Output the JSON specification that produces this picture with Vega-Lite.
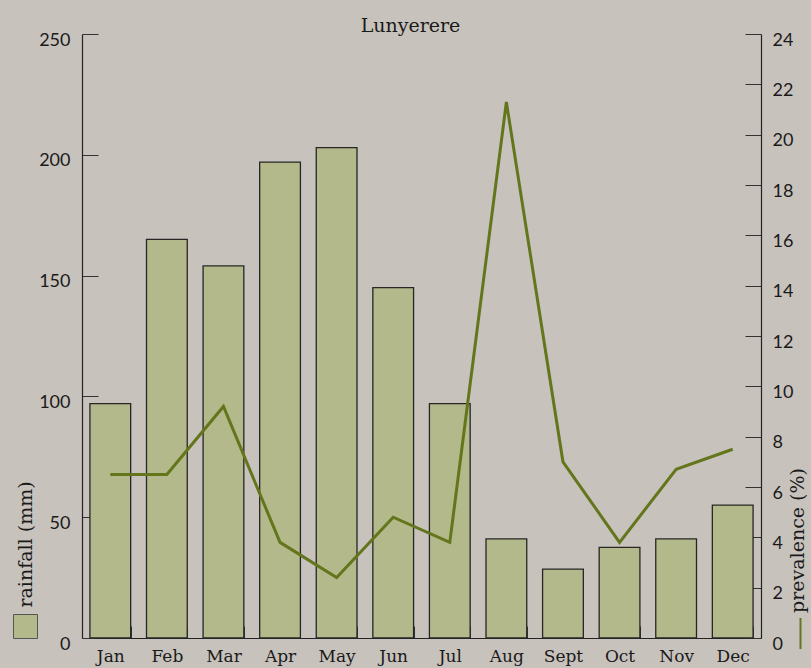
{
  "$schema": "https://vega.github.io/schema/vega-lite/v6.json",
  "autosize": {"type": "none"},
  "padding": {"left": 82, "top": 34, "right": 50, "bottom": 30},
  "width": 679,
  "height": 604,
  "background": "#c8c2bd",
  "title": {"text": "Lunyerere", "font": "DejaVu Serif", "fontSize": 19, "fontWeight": "normal", "color": "#1a1a1a", "anchor": "middle", "dx": -11, "offset": -5},
  "config": {"view": {"stroke": null}},
  "data": {"values": [
    {"month": "Jan", "rainfall": 97, "prevalence": 6.5},
    {"month": "Feb", "rainfall": 165, "prevalence": 6.5},
    {"month": "Mar", "rainfall": 154, "prevalence": 9.2},
    {"month": "Apr", "rainfall": 197, "prevalence": 3.8},
    {"month": "May", "rainfall": 203, "prevalence": 2.4},
    {"month": "Jun", "rainfall": 145, "prevalence": 4.8},
    {"month": "Jul", "rainfall": 97, "prevalence": 3.8},
    {"month": "Aug", "rainfall": 41, "prevalence": 21.3},
    {"month": "Sept", "rainfall": 28.5, "prevalence": 7.0},
    {"month": "Oct", "rainfall": 37.5, "prevalence": 3.8},
    {"month": "Nov", "rainfall": 41, "prevalence": 6.7},
    {"month": "Dec", "rainfall": 55, "prevalence": 7.5}
  ]},
  "encoding": {
    "x": {"field": "month", "type": "ordinal", "sort": null,
      "scale": {"paddingInner": 0.28, "paddingOuter": 0.14},
      "axis": {"title": null, "labelAngle": 0, "labelFont": "DejaVu Serif", "labelFontSize": 17, "labelColor": "#1a1a1a", "labelPadding": 22,
        "domainColor": "#222", "domainWidth": 1.2, "tickBand": "extent", "tickSize": -12, "tickColor": "#333", "tickWidth": 1}}
  },
  "layer": [
    {
      "mark": {"type": "bar", "stroke": "#262626", "strokeWidth": 1.3},
      "encoding": {
        "y": {"field": "rainfall", "type": "quantitative",
          "scale": {"domain": [0, 250], "nice": false},
          "axis": {"orient": "left", "values": [0, 50, 100, 150, 200, 250], "grid": false,
            "labelFont": "Lato", "labelFontSize": 18, "labelColor": "#1a1a1a", "labelPadding": 28, "labelOffset": 6,
            "tickSize": -16, "tickColor": "#333", "domainColor": "#222", "domainWidth": 1.2,
            "title": "rainfall (mm)", "titleFont": "DejaVu Serif", "titleFontSize": 19, "titleFontWeight": "normal", "titleColor": "#1a1a1a",
            "titleAngle": -90, "titleX": -57, "titleY": 510, "titleAlign": "center", "titleBaseline": "middle"}},
        "fill": {"datum": "rainfall", "scale": {"range": ["#b3b98a"]},
          "legend": {"orient": "none", "legendX": -69, "legendY": 580, "title": null, "labelExpr": "''", "labelFontSize": 1,
            "symbolType": "square", "symbolSize": 576, "symbolStrokeColor": "#555", "symbolStrokeWidth": 1, "padding": 0, "symbolOpacity": 1}}
      }
    },
    {
      "mark": {"type": "line", "strokeWidth": 3},
      "encoding": {
        "y": {"field": "prevalence", "type": "quantitative",
          "scale": {"domain": [0, 24], "nice": false},
          "axis": {"orient": "right", "values": [0, 2, 4, 6, 8, 10, 12, 14, 16, 18, 20, 22, 24], "grid": false,
            "labelFont": "Lato", "labelFontSize": 18, "labelColor": "#1a1a1a", "labelPadding": 27, "labelOffset": 6,
            "tickSize": -16, "tickColor": "#333", "domainColor": "#222", "domainWidth": 1.2,
            "title": "prevalence (%)", "titleFont": "DejaVu Serif", "titleFontSize": 19, "titleFontWeight": "normal", "titleColor": "#1a1a1a",
            "titleAngle": -90, "titleX": 36, "titleY": 506, "titleAlign": "center", "titleBaseline": "middle"}},
        "stroke": {"datum": "prevalence", "scale": {"range": ["#64761c"]},
          "legend": {"orient": "none", "legendX": 702, "legendY": 583, "title": null, "labelExpr": "''", "labelFontSize": 1,
            "symbolType": "M0,-1L0,1", "symbolSize": 961, "symbolStrokeWidth": 2, "padding": 0}}
      }
    }
  ],
  "resolve": {"scale": {"y": "independent"}, "axis": {"y": "independent"}}
}
